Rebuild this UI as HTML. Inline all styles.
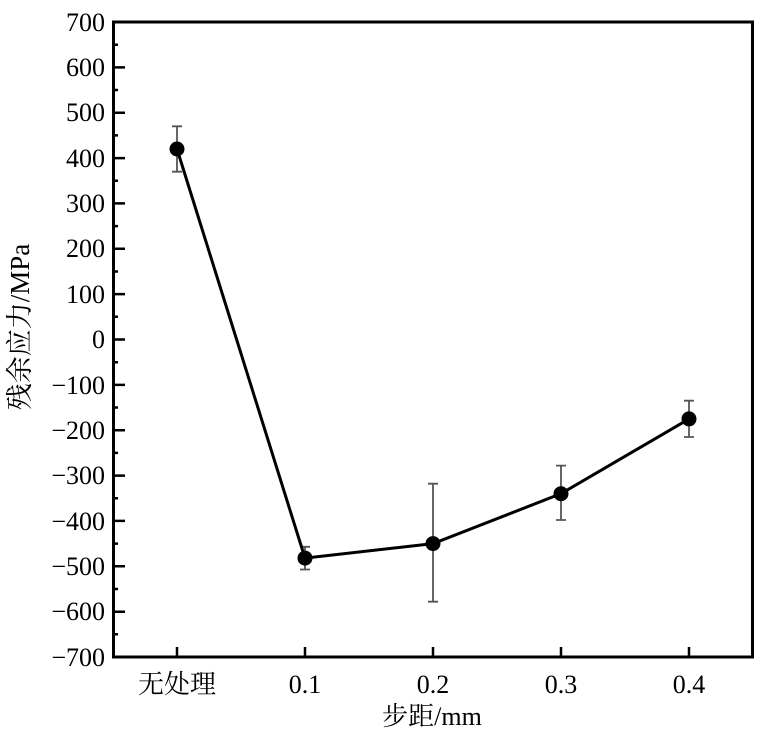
<!DOCTYPE html>
<html><head><meta charset="utf-8"><style>body{margin:0;background:#fff}svg{display:block}</style></head>
<body>
<svg width="768" height="733" xmlns="http://www.w3.org/2000/svg" font-family="'Liberation Serif','Noto Serif CJK SC',serif" font-size="26" fill="#000">
<rect x="113.5" y="22" width="639" height="635" fill="none" stroke="#000" stroke-width="3"/>
<g stroke="#000" stroke-width="2.5">
<path d="M113 67.4h12M113 112.7h12M113 158.1h12M113 203.4h12M113 248.8h12M113 294.1h12M113 339.5h12M113 384.9h12M113 430.2h12M113 475.6h12M113 520.9h12M113 566.3h12M113 611.7h12"/>
<path d="M113 44.7h5M113 90h5M113 135.4h5M113 180.8h5M113 226.1h5M113 271.5h5M113 316.8h5M113 362.2h5M113 407.5h5M113 452.9h5M113 498.2h5M113 543.6h5M113 589h5M113 634.3h5"/>
<path d="M177 657v-10M305 657v-10M433 657v-10M561 657v-10M689 657v-10"/>
</g>
<g stroke="#555" stroke-width="1.8">
<path d="M177 126.3V171.7M172 126.3h10M172 171.7h10"/>
<path d="M305 546.8V569.5M300 546.8h10M300 569.5h10"/>
<path d="M433 483.7V601.7M428 483.7h10M428 601.7h10"/>
<path d="M561 465.6V520M556 465.6h10M556 520h10"/>
<path d="M689 400.7V437M684 400.7h10M684 437h10"/>
</g>
<polyline points="177,149 305,558.1 433,543.6 561,493.7 689,418.9" fill="none" stroke="#000" stroke-width="3"/>
<g fill="#000"><circle cx="177" cy="149" r="7.5"/><circle cx="305" cy="558.1" r="7.5"/><circle cx="433" cy="543.6" r="7.5"/><circle cx="561" cy="493.7" r="7.5"/><circle cx="689" cy="418.9" r="7.5"/></g>
<g text-anchor="end">
<text x="105" y="31">700</text><text x="105" y="76">600</text><text x="105" y="121">500</text><text x="105" y="167">400</text><text x="105" y="212">300</text><text x="105" y="257">200</text><text x="105" y="303">100</text><text x="105" y="348">0</text><text x="105" y="394">−100</text><text x="105" y="439">−200</text><text x="105" y="484">−300</text><text x="105" y="530">−400</text><text x="105" y="575">−500</text><text x="105" y="620">−600</text><text x="105" y="666">−700</text>
</g>
<g text-anchor="middle">
<text x="177" y="693">无处理</text><text x="305" y="693">0.1</text><text x="433" y="693">0.2</text><text x="561" y="693">0.3</text><text x="689" y="693">0.4</text>
<text x="432" y="725">步距/mm</text>
<text transform="translate(29,327) rotate(-90)" font-size="27">残余应力/MPa</text>
</g>
</svg>
</body></html>
